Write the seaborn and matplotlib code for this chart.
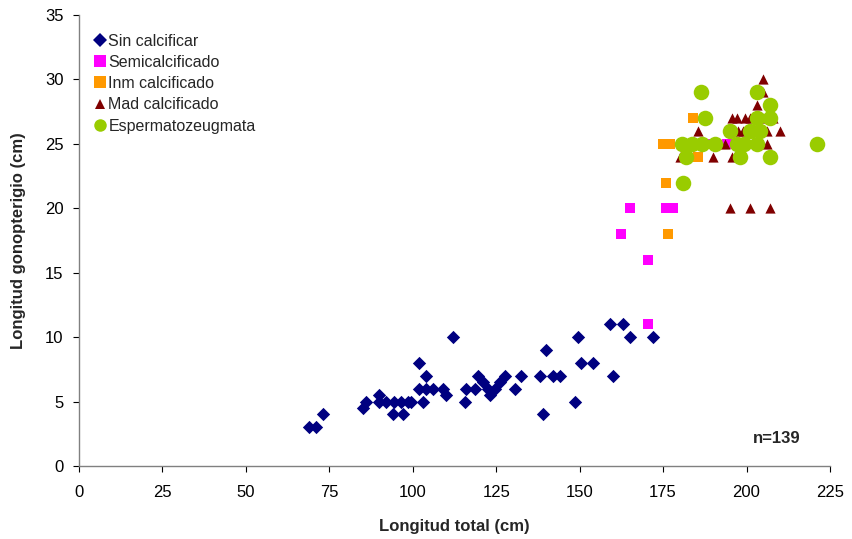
import matplotlib
matplotlib.use("Agg")
import matplotlib.pyplot as plt
from matplotlib.lines import Line2D
import seaborn as sns
import pandas as pd

# Longitud total (cm) y longitud del gonopterigio (cm) por estado de madurez
sin_x = [69, 71, 73, 85, 86, 90, 90, 92, 94.5, 96.5, 98.5, 99.5, 94, 97, 102, 104, 102, 104, 106,
         103, 109, 110, 112, 115.5, 116, 118.5, 119.5, 121, 122.5, 123, 124.5, 126, 127.5, 130.5,
         132.5, 138, 142, 144, 140, 139, 148.5, 149.5, 150.5, 154, 159, 163, 165, 172, 160]
sin_y = [3, 3, 4, 4.5, 5, 5.5, 5, 5, 5, 5, 5, 5, 4, 4, 8, 7, 6, 6, 6,
         5, 6, 5.5, 10, 5, 6, 6, 7, 6.5, 6, 5.5, 6, 6.5, 7, 6,
         7, 7, 7, 7, 9, 4, 5, 10, 8, 8, 11, 11, 10, 10, 7]

semi_x = [165, 176, 178, 162.5, 170.5, 170.5, 188, 194]
semi_y = [20, 20, 20, 18, 16, 11, 25, 25]

inm_x = [176.5, 184, 175, 177, 185.5, 176]
inm_y = [18, 27, 25, 25, 24, 22]

mad_x = [205, 205, 203, 195.5, 197, 199.6, 201, 205, 208, 185.5, 195.5, 197.5, 199, 206, 210,
         193.5, 206, 180, 190, 195.5, 195, 201, 207]
mad_y = [30, 29, 28, 27, 27, 27, 27, 27, 27, 26, 26, 26, 26, 26, 26,
         25, 25, 24, 24, 24, 20, 20, 20]

esp_x = [186.5, 203, 207, 187.5, 203, 207, 195, 201, 204, 180.7, 183.7, 186.6, 190.6, 197.1,
         199.1, 203, 221, 182, 198, 207, 181]
esp_y = [29, 29, 28, 27, 27, 27, 26, 26, 26, 25, 25, 25, 25, 25,
         25, 25, 25, 24, 24, 24, 22]

# (label, x, y, marker, colour, scatter size, legend marker size)
series = [
    ("Sin calcificar", sin_x, sin_y, "D", "#000080", 46, 7.5),
    ("Semicalcificado", semi_x, semi_y, "s", "#FF00FF", 60, 8),
    ("Inm calcificado", inm_x, inm_y, "s", "#FF9900", 60, 8),
    ("Mad calcificado", mad_x, mad_y, "^", "#800000", 54, 7.5),
    ("Espermatozeugmata", esp_x, esp_y, "o", "#99CC00", 125, 9),
]

sns.set_style("white")
plt.rcParams["font.family"] = ["Liberation Sans", "DejaVu Sans"]

fig = plt.figure(figsize=(8.52, 5.39), dpi=100)
ax = fig.add_axes([79 / 852, 1 - 466 / 539, (830 - 79) / 852, (466 - 15) / 539])

handles = []
for name, xs, ys, mk, col, size, lsize in series:
    df = pd.DataFrame({"x": xs, "y": ys})
    sns.scatterplot(data=df, x="x", y="y", marker=mk, color=col, s=size,
                    linewidth=0, ax=ax, zorder=3, legend=False)
    handles.append(Line2D([], [], linestyle="none", marker=mk, color=col,
                          markeredgewidth=0, markersize=lsize, label=name))

ax.set_xlim(0, 225)
ax.set_ylim(0, 35)
ax.set_xticks(range(0, 226, 25))
ax.set_yticks(range(0, 36, 5))
ax.tick_params(axis="x", labelsize=12, length=4, width=0.8, direction="out",
               bottom=True, colors="black", pad=10)
ax.tick_params(axis="y", labelsize=12, length=4, width=0.8, direction="out",
               left=True, colors="black", pad=7)
for side in ("top", "right"):
    ax.spines[side].set_visible(False)
for side in ("left", "bottom"):
    ax.spines[side].set_color("#808080")
    ax.spines[side].set_linewidth(1)

ax.set_xlabel("Longitud total (cm)", fontsize=12, fontweight="bold", labelpad=13)
ax.set_ylabel("Longitud gonopterigio (cm)", fontsize=12, fontweight="bold", labelpad=14)

ax.text(209, 2.1, "n=139", fontsize=12, fontweight="bold", ha="center", va="center")

ax.legend(handles=handles, loc="upper left", bbox_to_anchor=(0.004, 0.98), frameon=False,
          fontsize=11.5, handletextpad=0.05, labelspacing=0.39,
          handlelength=1.0, borderaxespad=0.2)

fig.savefig("out.png", dpi=100, facecolor="white")
